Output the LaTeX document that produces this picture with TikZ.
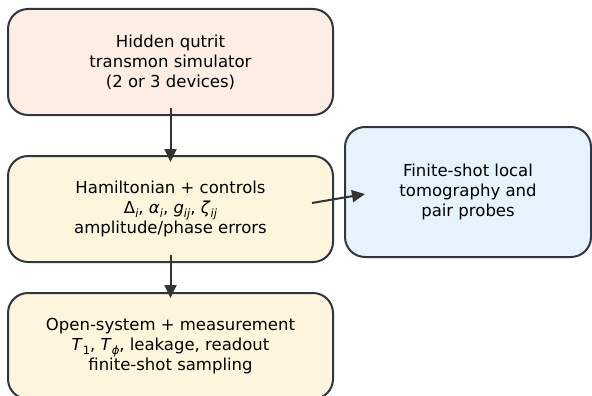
\documentclass[tikz,border=0pt]{standalone}
\usepackage{fontspec}
\setmainfont{DejaVu Sans}
\usetikzlibrary{arrows.meta}
\definecolor{bordc}{HTML}{30353F}
\definecolor{arrc}{HTML}{333333}
\definecolor{peach}{HTML}{FDEDE3}
\definecolor{ylw}{HTML}{FEF6DC}
\definecolor{lblue}{HTML}{E6F3FD}
\newcommand{\mi}[1]{\textit{#1}}
\newcommand{\sbs}[1]{\raisebox{-0.25em}{\fontsize{11.5}{12}\selectfont #1}}
\begin{document}
\begin{tikzpicture}[x=1pt,y=1pt,
  box/.style={draw=bordc, line width=2pt, rounded corners=20pt, align=center,
    minimum width=325pt, minimum height=106pt, inner sep=0pt,
    font=\fontsize{16.5}{20}\selectfont, text=black},
  arr/.style={draw=arrc, line width=2pt, -{Triangle[length=13pt,width=12pt]}}]
\useasboundingbox (0,0) rectangle (592,-396);
\node[box, fill=peach] (b1) at (170.5,-62) {Hidden qutrit\\transmon simulator\\(2 or 3 devices)};
\node[box, fill=ylw] (b2) at (170.5,-209) {Hamiltonian + controls\\
  Δ\sbs{\mi{i}}, \mi{α}\sbs{\mi{i}}, \mi{g}\sbs{\mi{ij}}, \mi{ζ}\sbs{\mi{ij}}\\amplitude/phase errors};
\node[box, fill=ylw] (b3) at (170.5,-346) {Open-system + measurement\\
  \mi{T}\sbs{1}, \mi{T}\sbs{\mi{ϕ}}, leakage, readout\\finite-shot sampling};
\node[box, fill=lblue, minimum width=246pt, minimum height=130pt] (b4) at (468,-192) {Finite-shot local\\tomography and\\pair probes};
\draw[arr] ([yshift=8pt]b1.south) -- ([yshift=-7pt]b2.north);
\draw[arr] ([yshift=8pt]b2.south) -- ([yshift=-6pt]b3.north);
\draw[arr] ([xshift=-22pt,yshift=6pt]b2.east) -- ([xshift=21pt,yshift=-2pt]b4.west);
\end{tikzpicture}
\end{document}
